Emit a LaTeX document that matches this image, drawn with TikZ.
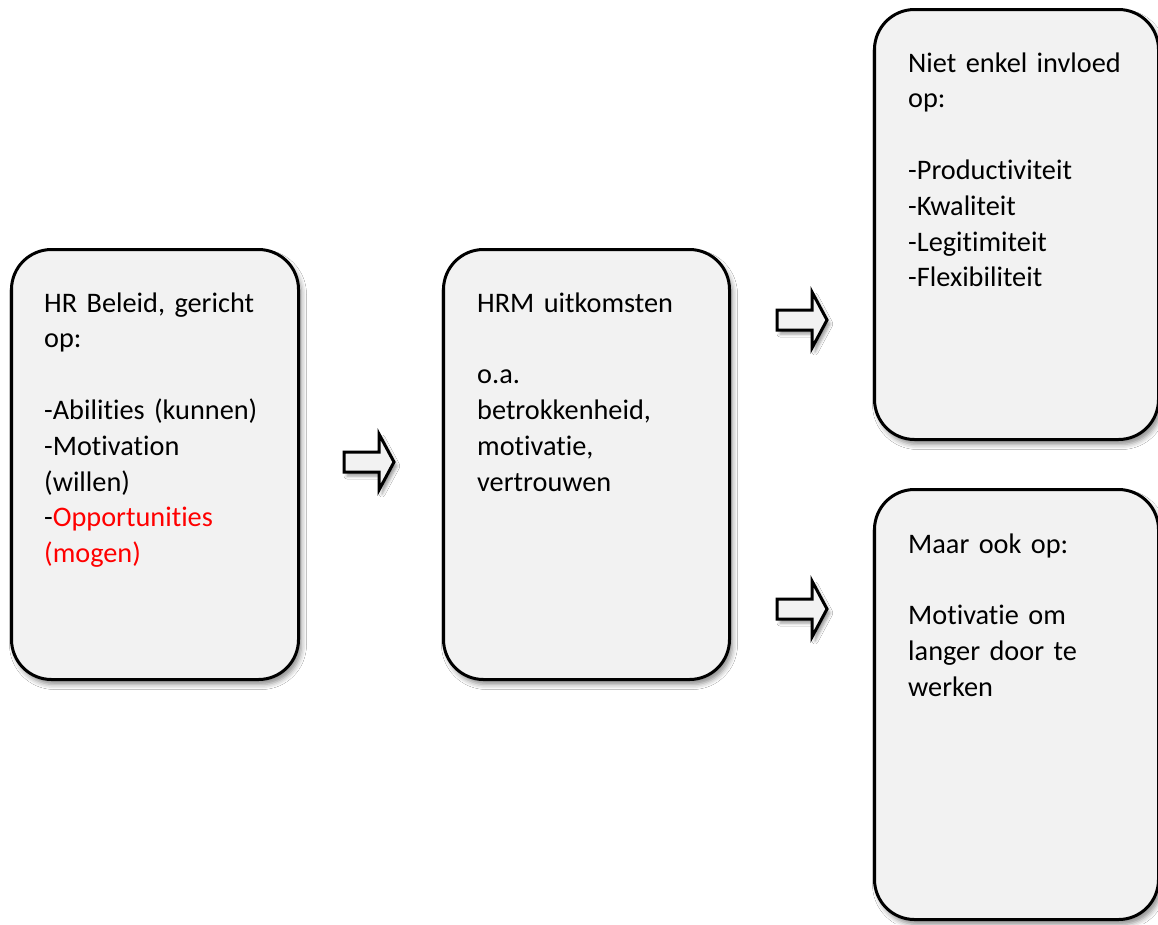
\documentclass[tikz,border=0pt]{standalone}
\usepackage{fontspec}
\setmainfont[Ligatures=NoCommon]{Carlito}
\usetikzlibrary{shadows.blur}
\definecolor{boxfill}{HTML}{F2F2F2}
\definecolor{hred}{HTML}{FF0000}
\begin{document}
\begin{tikzpicture}[x=1pt,y=-1pt,
  card/.style={draw=black, line width=3pt, fill=boxfill, rounded corners=40pt,
    inner sep=0pt, anchor=north west,
    blur shadow={shadow xshift=3pt, shadow yshift=-5pt, shadow blur radius=5pt, shadow opacity=45}},
  txt/.style={anchor=base west, align=left, inner sep=0pt, text width=250pt,
    font=\fontsize{28.3}{35.8}\selectfont},
  blockarrow/.pic={
    \draw[line width=3pt, fill=boxfill, miter limit=10,
      blur shadow={shadow xshift=3pt, shadow yshift=-4pt, shadow blur radius=3pt, shadow opacity=40}]
      (0,-10) -- (35,-10) -- (35,-28) -- (50,0) -- (35,28) -- (35,10) -- (0,10) -- cycle;
  }]
\useasboundingbox (0,0) rectangle (1158,924);
\fill[white] (0,0) rectangle (1158,924);

\node[card, minimum width=287pt, minimum height=430pt] (b1) at (10,248) {};
\node[card, minimum width=286pt, minimum height=430pt] (b2) at (442,248) {};
\node[card, minimum width=284pt, minimum height=430pt] (b3) at (873,8) {};
\node[card, minimum width=284pt, minimum height=430pt] (b4) at (873,488) {};

\node[txt] (t1) at (44,312) {HR Beleid, gericht\\op:\\[35.8pt]-Abilities (kunnen)\\-Motivation\\(willen)\\-\textcolor{hred}{Opportunities}\\\textcolor{hred}{(mogen)}};
\node[txt] (t2) at (477,312) {HRM uitkomsten\\[35.8pt]o.a.\\betrokkenheid,\\motivatie,\\vertrouwen};
\node[txt] (t3) at (908,72) {Niet enkel invloed\\op:\\[35.8pt]-Productiviteit\\-Kwaliteit\\-Legitimiteit\\-Flexibiliteit};
\node[txt] (t4) at (908,553) {Maar ook op:\\[35.8pt]Motivatie om\\langer door te\\werken};

\pic at (344,462) {blockarrow};
\pic at (777,320) {blockarrow};
\pic at (777,609) {blockarrow};
\end{tikzpicture}
\end{document}
